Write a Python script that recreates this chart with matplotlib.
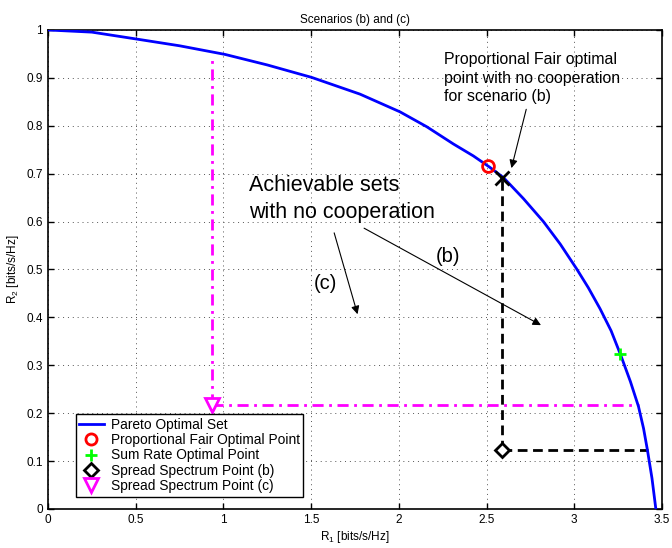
import matplotlib
matplotlib.use('Agg')
import matplotlib.pyplot as plt
from matplotlib.lines import Line2D

plt.rcParams['font.family'] = ['Liberation Sans', 'DejaVu Sans']
plt.rcParams['mathtext.fontset'] = 'custom'
plt.rcParams['mathtext.rm'] = 'Liberation Sans'
plt.rcParams['mathtext.it'] = 'Liberation Sans'

# Pareto optimal set
pareto_r1 = [0.0, 0.25, 0.506, 0.75, 1.009, 1.25, 1.503, 1.779, 2.007, 2.159,
             2.311, 2.425, 2.516, 2.596, 2.71, 2.824, 2.92, 3.014, 3.08, 3.147,
             3.21, 3.265, 3.32, 3.366, 3.395, 3.417, 3.443, 3.465]
pareto_r2 = [1.0, 0.9955, 0.981, 0.967, 0.949, 0.927, 0.901, 0.866, 0.829, 0.798,
             0.762, 0.737, 0.714, 0.692, 0.648, 0.600, 0.553, 0.501, 0.462, 0.418,
             0.372, 0.321, 0.266, 0.214, 0.168, 0.123, 0.064, 0.0]

pf_point = (2.51, 0.716)          # proportional fair optimal point
sum_rate_point = (3.262, 0.323)   # sum rate optimal point
pf_nocoop_b = (2.59, 0.692)       # PF optimal with no cooperation, scenario (b)
ss_point_b = (2.59, 0.124)        # spread spectrum point (b)
ss_point_c = (0.935, 0.217)       # spread spectrum point (c)
curve_hit_b = (3.42, 0.124)
curve_hit_c_h = (3.37, 0.217)
curve_hit_c_v = (0.935, 0.945)

x_ticks = [0, 0.5, 1, 1.5, 2, 2.5, 3, 3.5]
y_ticks = [0, 0.1, 0.2, 0.3, 0.4, 0.5, 0.6, 0.7, 0.8, 0.9, 1]

fig = plt.figure(figsize=(6.72, 5.48), dpi=100)
ax = fig.add_axes([0.0714, 0.0712, 0.9137, 0.8741])

BLUE = '#0000ff'
MAGENTA = '#ff00ff'

# achievable set boundaries with no cooperation
ax.plot([ss_point_c[0], curve_hit_c_v[0]], [ss_point_c[1], curve_hit_c_v[1]],
        color=MAGENTA, lw=2, dashes=(4, 2, 1, 2), zorder=2)
ax.plot([ss_point_c[0], curve_hit_c_h[0]], [ss_point_c[1], curve_hit_c_h[1]],
        color=MAGENTA, lw=2, dashes=(4, 2, 1, 2), zorder=2)
ax.plot([ss_point_b[0], pf_nocoop_b[0]], [ss_point_b[1], pf_nocoop_b[1]],
        color='black', lw=2, dashes=(3.5, 2), zorder=2)
ax.plot([ss_point_b[0], curve_hit_b[0]], [ss_point_b[1], curve_hit_b[1]],
        color='black', lw=2, dashes=(3.5, 2), zorder=2)

ax.plot(pareto_r1, pareto_r2, color=BLUE, lw=2, zorder=3, solid_joinstyle='round')

ax.plot(*pf_point, 'o', ms=8.5, mfc='none', mec='red', mew=2, zorder=4)
ax.plot(*sum_rate_point, '+', ms=9, mec='#00ff00', mew=2, zorder=4)
ax.plot(*ss_point_b, 'D', ms=7, mfc='white', mec='black', mew=2, zorder=4)
ax.plot(*ss_point_c, 'v', ms=10, mfc='white', mec=MAGENTA, mew=2, zorder=4)
ax.plot(*pf_nocoop_b, 'x', ms=10, mec='black', mew=2, zorder=4)

# annotations
ax.text(2.258, 0.954, 'Proportional Fair optimal\npoint with no cooperation\nfor scenario (b)',
        fontsize=11.4, va='top', ha='left', linespacing=1.3)
ax.annotate('', xy=(2.638, 0.706), xytext=(2.73, 0.84),
            arrowprops=dict(arrowstyle='-|>', color='black', lw=0.8,
                            mutation_scale=12))
ax.text(1.148, 0.697, 'Achievable sets\nwith no cooperation', fontsize=15.5,
        va='top', ha='left', linespacing=1.35)
ax.annotate('', xy=(1.769, 0.401), xytext=(1.627, 0.582),
            arrowprops=dict(arrowstyle='-|>', color='black', lw=0.8,
                            mutation_scale=12))
ax.annotate('', xy=(2.824, 0.381), xytext=(1.788, 0.589),
            arrowprops=dict(arrowstyle='-|>', color='black', lw=0.8,
                            mutation_scale=12))
ax.text(1.579, 0.471, '(c)', fontsize=14.5, ha='center', va='center')
ax.text(2.282, 0.528, '(b)', fontsize=14.5, ha='center', va='center')

ax.set_xlim(0, 3.5)
ax.set_ylim(0, 1)
ax.set_xticks(x_ticks)
ax.set_xticklabels([f'{t:g}' for t in x_ticks])
ax.set_yticks(y_ticks)
ax.set_yticklabels([f'{t:g}' for t in y_ticks])
ax.tick_params(direction='in', top=True, right=True, labelsize=8.5, length=4, width=1)
ax.grid(True, linestyle=(0, (1, 4)), color='#555555', lw=0.7)
for s in ax.spines.values():
    s.set_linewidth(1.2)

ax.set_title('Scenarios (b) and (c)', fontsize=8.5, pad=5)
ax.set_xlabel('R$_1$ [bits/s/Hz]', fontsize=8.5, labelpad=2)
ax.set_ylabel('R$_2$ [bits/s/Hz]', fontsize=8.5, labelpad=4)

handles = [
    Line2D([], [], color=BLUE, lw=2),
    Line2D([], [], ls='none', marker='o', ms=8, mfc='none', mec='red', mew=2),
    Line2D([], [], ls='none', marker='+', ms=9, mec='#00ff00', mew=2),
    Line2D([], [], ls='none', marker='D', ms=7, mfc='none', mec='black', mew=2),
    Line2D([], [], ls='none', marker='v', ms=10, mfc='none', mec=MAGENTA, mew=2),
]
labels = ['Pareto Optimal Set', 'Proportional Fair Optimal Point',
          'Sum Rate Optimal Point', 'Spread Spectrum Point (b)',
          'Spread Spectrum Point (c)']
leg = ax.legend(handles, labels, loc='lower left', bbox_to_anchor=(0.045, 0.026),
                borderaxespad=0, fontsize=9.9, fancybox=False, framealpha=1,
                edgecolor='black', labelspacing=0.1, handlelength=1.8,
                handletextpad=0.5, borderpad=0.25)
leg.get_frame().set_linewidth(1)

fig.savefig('out.png', dpi=100)
